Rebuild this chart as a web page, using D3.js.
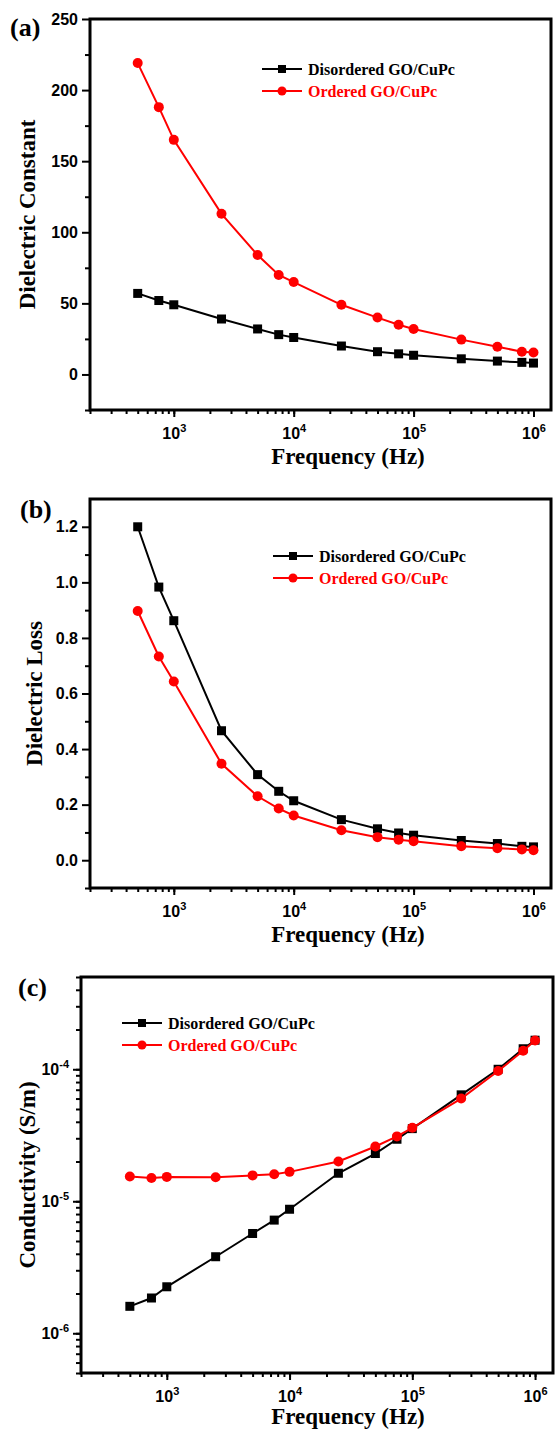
<!DOCTYPE html>
<meta charset="utf-8">
<script src="https://d3js.org/d3.v7.min.js"></script>
<style>
body{margin: 0; background: #fff;}
svg{display: block;}
.ax-title, .panel-label, .legend-text{font-family: "Liberation Serif", "Times New Roman", serif; font-weight: bold;}
.ax-title{font-size: 23px;}
.panel-label{font-size: 26px;}
.legend-text{font-size: 16px;}
</style>
<div id="vis"></div>
<script>

// frequencies (Hz), shared by the three panels
var freq = [500, 750, 1000, 2500, 5000, 7500, 10000, 25000, 50000, 75000, 100000, 250000, 500000, 800000, 1000000];

// (a) dielectric constant
var constDisordered = [57, 52, 49, 39, 32, 28, 26, 20, 16, 14.5, 13.5, 11, 9.4, 8.5, 8];
var constOrdered = [219, 188, 165, 113, 84, 70, 65, 49, 40, 35, 32, 24.5, 19.5, 16, 15.5];

// (b) dielectric loss
var lossDisordered = [1.2, 0.983, 0.862, 0.466, 0.308, 0.248, 0.214, 0.146, 0.113, 0.098, 0.09, 0.071, 0.06, 0.05, 0.048];
var lossOrdered = [0.897, 0.733, 0.643, 0.347, 0.23, 0.186, 0.161, 0.108, 0.083, 0.074, 0.068, 0.05, 0.043, 0.039, 0.036];

// (c) conductivity (S/m)
var condDisordered = [1.6e-6, 1.85e-6, 2.25e-6, 3.8e-6, 5.7e-6, 7.2e-6, 8.7e-6, 1.63e-5, 2.3e-5, 2.95e-5, 3.55e-5, 6.4e-5, 1.0e-4, 1.43e-4, 1.66e-4];
var condOrdered = [1.54e-5, 1.5e-5, 1.53e-5, 1.52e-5, 1.57e-5, 1.6e-5, 1.67e-5, 2.0e-5, 2.6e-5, 3.1e-5, 3.6e-5, 6.0e-5, 9.7e-5, 1.38e-4, 1.65e-4];

var seriesNames = ["Disordered GO/CuPc", "Ordered GO/CuPc"];
var seriesColors = ["#000000", "#ff0000"];

var xMajor = [1e3, 1e4, 1e5, 1e6];

var svg = d3.select("#vis").append("svg")
    .attr("width", 558)
    .attr("height", 1431);

function logMinor(lo, hi) {
  var out = [];
  for (var e = Math.floor(Math.log10(lo)); e <= Math.ceil(Math.log10(hi)); e++) {
    for (var m = 1; m < 10; m++) {
      var v = m * Math.pow(10, e);
      if (v >= lo * 0.999 && v <= hi * 1.001) out.push(v);
    }
  }
  return out;
}

function styleLabels(sel) {
  sel.selectAll(".tick text")
      .style("font-family", "'Liberation Sans', Arial, sans-serif")
      .style("font-weight", "bold")
      .style("font-size", "16px")
      .attr("fill", "#000");
}

function supLabels(sel) {
  sel.selectAll(".tick text").each(function(d) {
    var t = d3.select(this);
    var e = Math.round(Math.log10(d));
    t.text("10");
    t.append("tspan").attr("dy", "-0.6em").style("font-size", "11px").text(e);
  });
}

function drawPanel(p) {
  var x = d3.scaleLog().domain([200, 1.4e6]).range([p.left, p.right]);
  var y = p.y.range([p.bottom, p.top]);
  var g = svg.append("g");

  // minor x ticks
  g.append("g")
      .attr("transform", "translate(0," + p.bottom + ")")
      .call(d3.axisBottom(x).tickValues(logMinor(200, 1.4e6)).tickSize(4).tickSizeOuter(0).tickFormat(""))
      .call(function(s) { s.select(".domain").remove(); s.selectAll("line").attr("stroke-width", 2); });

  // major x ticks
  var xa = g.append("g")
      .attr("transform", "translate(0," + p.bottom + ")")
      .call(d3.axisBottom(x).tickValues(xMajor).tickSize(7).tickPadding(6).tickFormat(function() { return "10"; }))
      .call(function(s) { s.select(".domain").remove(); s.selectAll("line").attr("stroke-width", 2); });
  xa.selectAll(".tick text").attr("dy", "1em");
  styleLabels(xa);
  supLabels(xa);

  // y ticks
  g.append("g")
      .attr("transform", "translate(" + p.left + ",0)")
      .call(d3.axisLeft(y).tickValues(p.yMinor).tickSize(5).tickFormat(""))
      .call(function(s) { s.select(".domain").remove(); s.selectAll("line").attr("stroke-width", 2); });

  var ya = g.append("g")
      .attr("transform", "translate(" + p.left + ",0)")
      .call(d3.axisLeft(y).tickValues(p.yMajor).tickSize(8).tickPadding(4).tickFormat(p.yFormat || ""))
      .call(function(s) { s.select(".domain").remove(); s.selectAll("line").attr("stroke-width", 2); });
  styleLabels(ya);
  if (p.yLog) supLabels(ya);

  // frame
  g.append("rect")
      .attr("x", p.left).attr("y", p.top)
      .attr("width", p.right - p.left).attr("height", p.bottom - p.top)
      .attr("fill", "none").attr("stroke", "#000").attr("stroke-width", 3);

  // series
  var line = d3.line()
      .x(function(d) { return x(d[0]); })
      .y(function(d) { return y(d[1]); });

  p.series.forEach(function(vals, i) {
    var pts = freq.map(function(f, j) { return [f, vals[j]]; });
    var col = seriesColors[i];
    g.append("path").datum(pts)
        .attr("d", line).attr("fill", "none")
        .attr("stroke", col).attr("stroke-width", 2);
    if (i == 0) {
      g.selectAll(".sq").data(pts).enter().append("rect")
          .attr("x", function(d) { return x(d[0]) - 4.5; })
          .attr("y", function(d) { return y(d[1]) - 4.5; })
          .attr("width", 9).attr("height", 9).attr("fill", col);
    } else {
      g.selectAll(".ci").data(pts).enter().append("circle")
          .attr("cx", function(d) { return x(d[0]); })
          .attr("cy", function(d) { return y(d[1]); })
          .attr("r", 5).attr("fill", col);
    }
  });

  // legend
  seriesNames.forEach(function(name, i) {
    var ly = p.legY + i * 22;
    var col = seriesColors[i];
    g.append("line")
        .attr("x1", p.legX).attr("x2", p.legX + 40)
        .attr("y1", ly).attr("y2", ly)
        .attr("stroke", col).attr("stroke-width", 2);
    if (i == 0) {
      g.append("rect").attr("x", p.legX + 16).attr("y", ly - 4)
          .attr("width", 8).attr("height", 8).attr("fill", col);
    } else {
      g.append("circle").attr("cx", p.legX + 20).attr("cy", ly).attr("r", 4.5).attr("fill", col);
    }
    g.append("text").attr("class", "legend-text")
        .attr("x", p.legX + 46).attr("y", ly + 6)
        .attr("fill", col).text(name);
  });

  // titles
  g.append("text").attr("class", "ax-title")
      .attr("x", 348).attr("y", p.bottom + p.xTitleDy)
      .attr("text-anchor", "middle").text("Frequency (Hz)");
  g.append("text").attr("class", "ax-title")
      .attr("transform", "translate(" + p.yTitleX + "," + ((p.top + p.bottom) / 2) + ") rotate(-90)")
      .attr("text-anchor", "middle").text(p.yTitle);
  g.append("text").attr("class", "panel-label")
      .attr("x", p.labX).attr("y", p.labY).text(p.label);
}

drawPanel({
  left: 90, right: 551, top: 19, bottom: 410,
  y: d3.scaleLinear().domain([-25, 250]),
  yMajor: [0, 50, 100, 150, 200, 250],
  yMinor: [-25, 25, 75, 125, 175, 225],
  yFormat: d3.format("d"),
  series: [constDisordered, constOrdered],
  legX: 262, legY: 69,
  xTitleDy: 54,
  yTitle: "Dielectric Constant", yTitleX: 35,
  label: "(a)", labX: 10, labY: 36
});

drawPanel({
  left: 90, right: 551, top: 499, bottom: 888,
  y: d3.scaleLinear().domain([-0.1, 1.3]),
  yMajor: [0, 0.2, 0.4, 0.6, 0.8, 1.0, 1.2],
  yMinor: [-0.1, 0.1, 0.3, 0.5, 0.7, 0.9, 1.1],
  yFormat: d3.format(".1f"),
  series: [lossDisordered, lossOrdered],
  legX: 273, legY: 556,
  xTitleDy: 54,
  yTitle: "Dielectric Loss", yTitleX: 42,
  label: "(b)", labX: 20, labY: 518
});

drawPanel({
  left: 81, right: 553, top: 977, bottom: 1373,
  y: d3.scaleLog().domain([5e-7, 5e-4]),
  yLog: true,
  yMajor: [1e-6, 1e-5, 1e-4],
  yMinor: logMinor(5e-7, 5e-4),
  yFormat: function() { return "10"; },
  series: [condDisordered, condOrdered],
  legX: 122, legY: 1023,
  xTitleDy: 51,
  yTitle: "Conductivity (S/m)", yTitleX: 35,
  label: "(c)", labX: 18, labY: 996
});

</script>
